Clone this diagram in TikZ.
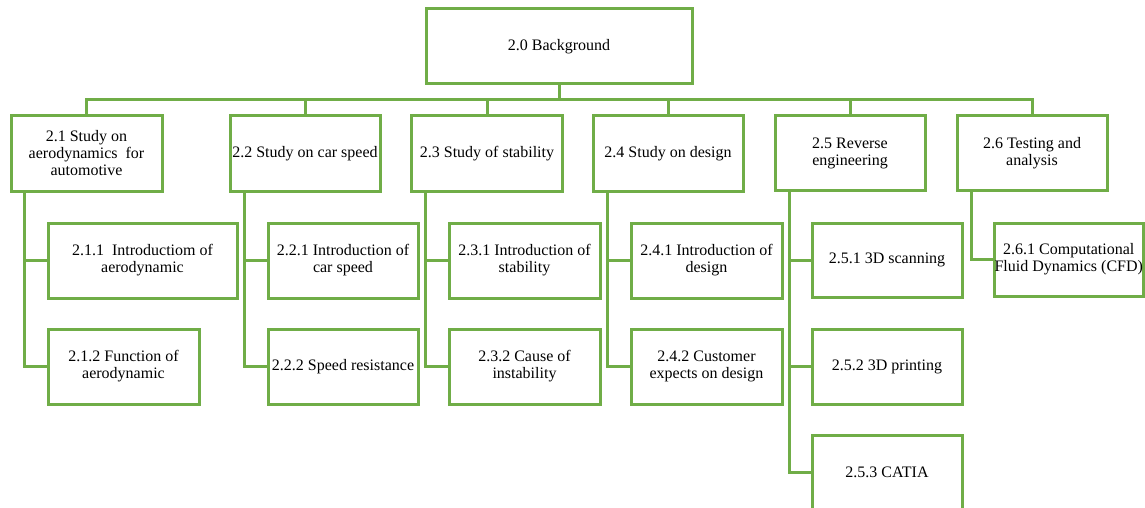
\documentclass[tikz,border=0pt]{standalone}
\usepackage{fontspec}
\setmainfont{Liberation Serif}
\definecolor{boxgreen}{HTML}{70AD47}
\begin{document}
\begin{tikzpicture}[x=1pt,y=-1pt,
  box/.style={draw=boxgreen, line width=3pt, fill=white, minimum height=75pt,
    minimum width=150pt, align=center, inner sep=0pt,
    font=\fontsize{16}{17}\selectfont},
  link/.style={draw=boxgreen, line width=3pt}]
\useasboundingbox (0,0) rectangle (1145,508);
\clip (0,0) rectangle (1145,508);
\coordinate (bus) at (0,100);
% root
\node[box, minimum width=266pt] (bg) at (559,46.5) {2.0 Background};
% level 1
\node[box, minimum width=151pt] (n21) at (86.5,153.5) {2.1 Study on\\aerodynamics~ for\\automotive};
\node[box] (n22) at (305,153.5) {2.2 Study on car speed};
\node[box, minimum width=151pt] (n23) at (487,153.5) {2.3 Study of stability};
\node[box] (n24) at (668,153.5) {2.4 Study on design};
\node[box] (n25) at (850,153) {2.5 Reverse\\engineering};
\node[box] (n26) at (1032,153) {2.6 Testing and\\analysis};
% level 2
\node[box, minimum width=189pt] (n211) at (142.5,260.5) {2.1.1~ Introductiom of\\aerodynamic};
\node[box, minimum width=151pt] (n212) at (123.5,366.5) {2.1.2 Function of\\aerodynamic};
\node[box] (n221) at (343,260.5) {2.2.1 Introduction of\\car speed};
\node[box] (n222) at (343,366.5) {2.2.2 Speed resistance};
\node[box, minimum width=151pt] (n231) at (524.5,260.5) {2.3.1 Introduction of\\stability};
\node[box, minimum width=151pt] (n232) at (524.5,366.5) {2.3.2 Cause of\\instability};
\node[box, minimum width=151pt] (n241) at (706.5,260.5) {2.4.1 Introduction of\\design};
\node[box, minimum width=151pt] (n242) at (706.5,366.5) {2.4.2 Customer\\expects on design};
\node[box, minimum height=74pt] (n251) at (887,260) {2.5.1 3D scanning};
\node[box] (n252) at (887,366.5) {2.5.2 3D printing};
\node[box] (n253) at (887,472.5) {2.5.3 CATIA};
\node[box, minimum width=149.5pt, minimum height=73pt] (n261) at (1068.75,259.5) {2.6.1 Computational\\Fluid Dynamics (CFD)};
% connectors: root to level 1
\draw[link] (bg.south) -- (bg.south |- bus);
\draw[link] (n21.north) -- (n21.north |- bus) -- (n26.north |- bus) -- (n26.north);
\foreach \n in {n22,n23,n24,n25} \draw[link] (\n.north) -- (\n.north |- bus);
% level 1 to level 2
\draw[link] ([xshift=15pt]n21.south west) |- (n212.west);
\draw[link] ([xshift=15pt]n21.south west |- n211.west) -- (n211.west);
\draw[link] ([xshift=15.5pt]n22.south west) |- (n222.west);
\draw[link] ([xshift=15.5pt]n22.south west |- n221.west) -- (n221.west);
\draw[link] ([xshift=15.5pt]n23.south west) |- (n232.west);
\draw[link] ([xshift=15.5pt]n23.south west |- n231.west) -- (n231.west);
\draw[link] ([xshift=15.5pt]n24.south west) |- (n242.west);
\draw[link] ([xshift=15.5pt]n24.south west |- n241.west) -- (n241.west);
\draw[link] ([xshift=15.5pt]n25.south west) |- (n253.west);
\draw[link] ([xshift=15.5pt]n25.south west |- n251.west) -- (n251.west);
\draw[link] ([xshift=15.5pt]n25.south west |- n252.west) -- (n252.west);
\draw[link] ([xshift=15.5pt]n26.south west) |- (n261.west);
\end{tikzpicture}
\end{document}
